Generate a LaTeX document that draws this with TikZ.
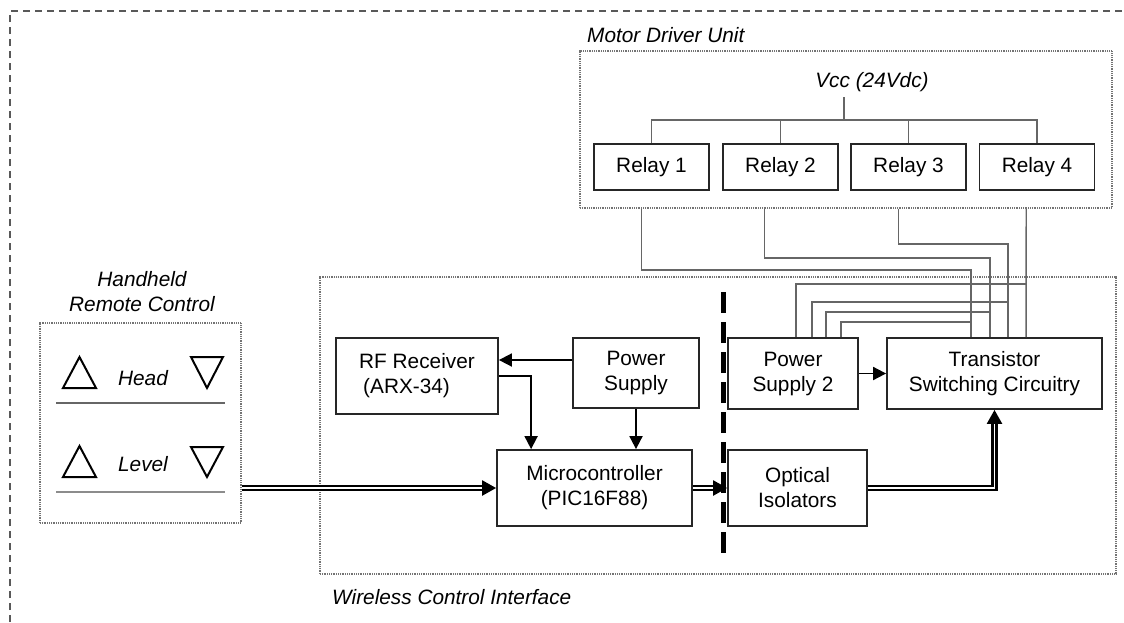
\documentclass[tikz,border=0pt]{standalone}
\usepackage{fontspec}
\setmainfont{Liberation Sans}
\usetikzlibrary{arrows.meta,calc}
\begin{document}
\begin{tikzpicture}[x=1pt,y=-1pt, font=\fontsize{20.8}{25}\selectfont,
  blk/.style={draw=black!85, line width=1.8pt, inner sep=0pt, align=center},
  grp/.style={draw=black!55, line width=1.6pt, dash pattern=on 1pt off 0.8pt, inner sep=0pt},
  wire/.style={draw=black!60, line width=1.4pt},
  arr/.style={draw=black, line width=1.8pt, -{Triangle[length=13pt,width=13pt]}},
  dbl/.style={draw=black, double=white, line width=2.4pt, double distance=1.4pt, -{Triangle[length=14pt,width=15pt]}},
  lbl/.style={font=\fontsize{20.8}{25}\selectfont\itshape, inner sep=0pt},
  tri/.style={draw=black, line width=2pt, line join=miter}]
\fill[white] (0,0) rectangle (1124,622);
\useasboundingbox (0,0) rectangle (1124,622);

% outer frame
\draw[black!65, line width=1.8pt, dash pattern=on 7pt off 5pt] (10,622) -- (10,11) -- (1124,11);

% group boxes
\node[grp, minimum width=532pt, minimum height=157pt] (mdu) at (846,129.5) {};
\node[grp, minimum width=796pt, minimum height=297pt] (wci) at (718,425.5) {};
\node[grp, minimum width=201pt, minimum height=200pt] (hh) at (140.5,423) {};

\node[lbl, anchor=west] (mdulbl) at (587,35) {Motor Driver Unit};
\node[lbl, anchor=west] (wcilbl) at (332,597) {Wireless Control Interface};
\node[lbl, align=center] (hhlbl) at (142,291.5) {Handheld\\Remote Control};

% remote control contents
\node[lbl] (head) at (143,378) {Head};
\node[lbl] (level) at (143,464) {Level};
\draw[tri] (63,388) -- (79.5,357) -- (96,388) -- cycle;
\draw[tri] (191,357) -- (223,357) -- (207,388) -- cycle;
\draw[tri] (63,477) -- (79.5,446) -- (96,477) -- cycle;
\draw[tri] (191,447) -- (223,447) -- (207,477) -- cycle;
\draw[black!60, line width=1.4pt] (56,403) -- (225,403);
\draw[black!45, line width=2.6pt] (56,492) -- (225,492);

% relays
\node[lbl] (vcc) at (872,82) {Vcc (24Vdc)};
\node[blk, minimum width=115pt, minimum height=46pt] (r1) at (651.5,167) {Relay 1};
\node[blk, minimum width=115pt, minimum height=46pt] (r2) at (780.5,167) {Relay 2};
\node[blk, minimum width=115pt, minimum height=46pt] (r3) at (908.5,167) {Relay 3};
\node[blk, minimum width=115pt, minimum height=46pt] (r4) at (1037,167) {Relay 4};
\coordinate (vtop) at (844,97);
\coordinate (vb) at (844,120);
\draw[wire] (vtop) -- (vb);
\draw[wire] (r1.north) -- (r1.north |- vb) -- (r4.north |- vb) -- (r4.north);
\draw[wire] (r2.north) -- (r2.north |- vb);
\draw[wire] (r3.north) -- (r3.north |- vb);

% blocks
\node[blk, align=left, minimum width=162pt, minimum height=76pt] (rf) at (417,376) {RF Receiver\\\hspace{4pt}(ARX-34)};
\node[blk, minimum width=126pt, minimum height=70pt] (ps) at (636,373) {Power\\Supply};
\node[blk, minimum width=195pt, minimum height=76pt] (mc) at (594.5,488) {Microcontroller\\(PIC16F88)};
\node[blk, minimum width=130pt, minimum height=71pt] (ps2) at (793,373.5) {Power\\Supply 2};
\node[blk, minimum width=139pt, minimum height=76pt] (opt) at (797.5,488) {Optical\\Isolators};
\node[blk, minimum width=215pt, minimum height=71pt] (tr) at (994.5,373.5) {Transistor\\Switching Circuitry};

% isolation barrier
\draw[black, line width=5pt, dash pattern=on 21pt off 9pt] (723,292) -- (723,553);

% relay wires
\coordinate (m1) at ([xshift=62pt]mdu.south west);
\coordinate (m2) at ([xshift=185pt]mdu.south west);
\coordinate (m3) at ([xshift=319pt]mdu.south west);
\coordinate (m4) at ([xshift=447pt]mdu.south west);
\coordinate (t1) at ([xshift=85pt]tr.north west);
\coordinate (t2) at ([xshift=104pt]tr.north west);
\coordinate (t3) at ([xshift=122pt]tr.north west);
\coordinate (t4) at ([xshift=140pt]tr.north west);
\draw[wire] (m1) -- ++(0,61) -| (t1);
\draw[wire] (m2) -- ++(0,49) -| (t2);
\draw[wire] (m3) -- ++(0,35) -| (t3);
\draw[wire] (m4) -- (t4);

\coordinate (p1) at ([xshift=69pt]ps2.north west);
\coordinate (p2) at ([xshift=85pt]ps2.north west);
\coordinate (p3) at ([xshift=99pt]ps2.north west);
\coordinate (p4) at ([xshift=114pt]ps2.north west);
\draw[wire] (p1) -- ++(0,-53) -- ++(230,0);
\draw[wire] (p2) -- ++(0,-35) -- ++(196,0);
\draw[wire] (p3) -- ++(0,-25) -- ++(164,0);
\draw[wire] (p4) -- ++(0,-15) -- ++(130,0);

% connectors
\coordinate (psA) at ([yshift=13pt]ps.west);
\draw[arr] (psA) -- (psA -| rf.east);
\coordinate (mcA) at ([xshift=35pt]mc.north west);
\draw[arr] (rf.east) -| (mcA);
\draw[arr] (ps.south) -- (ps.south |- mc.north);
\draw[arr] (ps2.east) -- (tr.west);
\draw[dbl] (hh.east |- mc.west) -- (mc.west);
\draw[dbl] (mc.east) -- (opt.west);
\draw[dbl] (opt.east) -| (tr.south);
\end{tikzpicture}
\end{document}
